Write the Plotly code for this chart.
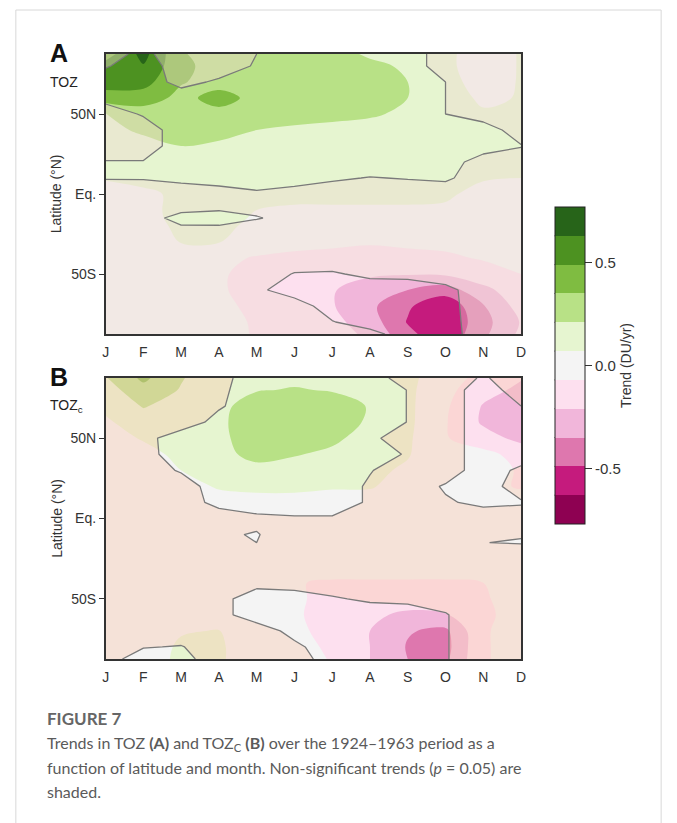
import plotly.graph_objects as go

# ---------------- data ----------------
MONTHS = ["J", "F", "M", "A", "M", "J", "J", "A", "S", "O", "N", "D"]
MONTH_POS = [1, 2, 3, 4, 5, 6, 7, 8, 9, 10, 11, 12]
LATS = [87.5, 80, 70, 60, 50, 40, 30, 20, 10, 0, -10, -15, -20, -30, -40, -50, -60, -70, -80, -87.5]
LAT_TICKS = [50, 0, -50]
LAT_LABELS = ["50N", "Eq.", "50S"]
CB_TICKS = [0.5, 0.0, -0.5]
CB_LABELS = ["0.5", "0.0", "-0.5"]
LEVEL_START, LEVEL_END, LEVEL_STEP = -0.63, 0.63, 0.14

# Panel A: TOZ trend (DU/yr), rows follow LATS, columns follow MONTHS
TOZ_TREND = [
    [0.42, 0.68, 0.36, 0.30, 0.28, 0.28, 0.26, 0.19, 0.15, 0.10, 0.00, 0.08],
    [0.55, 0.62, 0.38, 0.30, 0.30, 0.30, 0.28, 0.24, 0.19, 0.10, 0.00, 0.08],
    [0.56, 0.54, 0.36, 0.30, 0.30, 0.30, 0.28, 0.26, 0.21, 0.12, 0.01, 0.08],
    [0.42, 0.42, 0.31, 0.40, 0.31, 0.30, 0.28, 0.26, 0.21, 0.15, 0.04, 0.08],
    [0.20, 0.28, 0.30, 0.31, 0.29, 0.28, 0.26, 0.23, 0.18, 0.14, 0.09, 0.09],
    [0.16, 0.24, 0.27, 0.25, 0.21, 0.18, 0.16, 0.15, 0.14, 0.13, 0.11, 0.10],
    [0.12, 0.15, 0.21, 0.19, 0.17, 0.15, 0.15, 0.14, 0.13, 0.12, 0.11, 0.09],
    [0.10, 0.12, 0.14, 0.14, 0.13, 0.13, 0.13, 0.13, 0.12, 0.11, 0.09, 0.08],
    [0.08, 0.10, 0.11, 0.11, 0.11, 0.11, 0.11, 0.11, 0.11, 0.10, 0.08, 0.07],
    [0.02, 0.05, 0.09, 0.09, 0.09, 0.09, 0.09, 0.09, 0.09, 0.09, 0.03, 0.02],
    [-0.01, 0.04, 0.10, 0.10, 0.07, 0.06, 0.06, 0.06, 0.06, 0.05, 0.02, 0.01],
    [-0.01, 0.035, 0.10, 0.10, 0.06, 0.045, 0.04, 0.04, 0.04, 0.035, 0.01, 0.005],
    [0.00, 0.03, 0.09, 0.09, 0.05, 0.03, 0.02, 0.02, 0.02, 0.02, 0.00, 0.00],
    [0.00, 0.00, 0.075, 0.075, 0.00, -0.03, -0.05, -0.06, -0.05, -0.04, -0.02, -0.02],
    [0.00, -0.01, -0.02, -0.04, -0.08, -0.10, -0.10, -0.11, -0.10, -0.09, -0.06, -0.04],
    [-0.02, -0.02, -0.03, -0.055, -0.11, -0.13, -0.15, -0.19, -0.20, -0.19, -0.12, -0.07],
    [-0.02, -0.02, -0.03, -0.06, -0.10, -0.13, -0.20, -0.28, -0.35, -0.42, -0.25, -0.12],
    [-0.02, -0.02, -0.03, -0.06, -0.08, -0.12, -0.20, -0.32, -0.47, -0.60, -0.36, -0.15],
    [-0.02, -0.02, -0.03, -0.055, -0.075, -0.10, -0.17, -0.28, -0.50, -0.62, -0.40, -0.20],
    [-0.02, -0.02, -0.03, -0.05, -0.075, -0.10, -0.15, -0.24, -0.45, -0.60, -0.38, -0.18],
]
# Panel A: significance (1 = significant at p = 0.05, 0 = not significant)
TOZ_SIG = [
    [0.2, 0.7, 0, 0, 0.5, 1, 1, 1, 1, 0, 0, 0],
    [0.42, 1, 0, 0, 0.6, 1, 1, 1, 1, 0, 0, 0],
    [1, 1, 0.2, 0.65, 1, 1, 1, 1, 1, 0.5, 0, 0],
    [0.8, 1, 1, 1, 1, 1, 1, 1, 1, 0.5, 0, 0],
    [0, 0.6, 1, 1, 1, 1, 1, 1, 1, 0.5, 0, 0],
    [0, 0, 1, 1, 1, 1, 1, 1, 1, 1, 1, 0],
    [0, 0, 1, 1, 1, 1, 1, 1, 1, 1, 1, 0.55],
    [0.55, 0.55, 1, 1, 1, 1, 1, 1, 1, 1, 0, 0],
    [0.55, 0.56, 0.74, 1, 1, 1, 0.63, 0.46, 0.55, 0.65, 0, 0],
    [0, 0, 0, 0, 0.35, 0.05, 0, 0, 0, 0, 0, 0],
    [0, 0, 0.3, 0.45, 0.2, 0, 0, 0, 0, 0, 0, 0],
    [0, 0, 0.9, 1, 0.6, 0, 0, 0, 0, 0, 0, 0],
    [0, 0, 0.45, 0.45, 0, 0, 0, 0, 0, 0, 0, 0],
    [0, 0, 0, 0, 0, 0, 0, 0, 0, 0, 0, 0],
    [0, 0, 0, 0, 0, 0, 0, 0, 0, 0, 0, 0],
    [0, 0, 0, 0, 0, 0.55, 0.6, 0.3, 0.25, 0, 0, 0],
    [0, 0, 0, 0, 0.3, 1, 1, 1, 1, 0.75, 0, 0],
    [0, 0, 0, 0, 0, 0, 1, 1, 1, 0.8, 0, 0],
    [0, 0, 0, 0, 0, 0, 0.45, 1, 1, 0.85, 0, 0],
    [0, 0, 0, 0, 0, 0, 0, 0.17, 1, 0.9, 0, 0],
]
# Panel B: TOZc trend (DU/yr)
TOZC_TREND = [
    [0.20, 0.38, 0.22, 0.12, 0.15, 0.18, 0.18, 0.15, 0.10, 0.00, -0.12, -0.20],
    [0.15, 0.30, 0.20, 0.12, 0.20, 0.22, 0.20, 0.17, 0.10, -0.03, -0.16, -0.24],
    [0.10, 0.22, 0.15, 0.16, 0.30, 0.30, 0.28, 0.20, 0.10, -0.05, -0.22, -0.26],
    [0.05, 0.14, 0.12, 0.18, 0.30, 0.32, 0.28, 0.19, 0.10, -0.06, -0.23, -0.30],
    [0.02, 0.08, 0.10, 0.17, 0.30, 0.30, 0.24, 0.15, 0.09, -0.06, -0.15, -0.25],
    [0.00, 0.03, 0.10, 0.16, 0.26, 0.22, 0.18, 0.12, 0.08, -0.04, -0.03, -0.12],
    [-0.01, 0.00, 0.07, 0.12, 0.16, 0.15, 0.14, 0.10, 0.05, -0.03, -0.03, -0.08],
    [-0.02, -0.02, 0.03, 0.08, 0.09, 0.09, 0.08, 0.08, 0.02, -0.02, -0.04, -0.08],
    [-0.03, -0.03, -0.02, 0.03, 0.04, 0.04, 0.03, 0.02, -0.01, -0.02, -0.02, -0.02],
    [-0.03, -0.03, -0.03, -0.03, -0.03, -0.03, -0.03, -0.03, -0.03, -0.03, -0.04, -0.03],
    [-0.03, -0.03, -0.03, -0.03, -0.03, -0.03, -0.03, -0.03, -0.03, -0.03, -0.03, -0.03],
    [-0.03, -0.03, -0.03, -0.03, -0.03, -0.03, -0.03, -0.03, -0.03, -0.03, -0.03, -0.03],
    [-0.03, -0.03, -0.03, -0.03, -0.03, -0.03, -0.03, -0.03, -0.03, -0.03, -0.03, -0.03],
    [-0.03, -0.03, -0.03, -0.03, -0.03, -0.03, -0.03, -0.03, -0.03, -0.03, -0.03, -0.03],
    [-0.03, -0.03, -0.03, -0.03, -0.05, -0.065, -0.08, -0.08, -0.08, -0.08, -0.07, -0.03],
    [-0.03, -0.03, -0.02, -0.02, -0.04, -0.06, -0.09, -0.12, -0.13, -0.13, -0.08, -0.03],
    [-0.03, -0.03, -0.02, -0.02, -0.04, -0.06, -0.10, -0.18, -0.24, -0.22, -0.09, -0.03],
    [-0.03, -0.02, 0.06, 0.075, -0.03, -0.05, -0.10, -0.21, -0.34, -0.38, -0.08, -0.03],
    [-0.03, 0.00, 0.09, 0.09, -0.02, -0.05, -0.08, -0.21, -0.36, -0.40, -0.08, -0.03],
    [-0.03, 0.00, 0.10, 0.09, -0.02, -0.04, -0.075, -0.21, -0.35, -0.38, -0.08, -0.03],
]
# Panel B: significance
TOZC_SIG = [
    [0, 0, 0, 0.2, 1, 1, 1, 1, 0, 0, 0.6, 0],
    [0, 0, 0, 0.3, 1, 1, 1, 1, 0.48, 0, 1, 0],
    [0, 0, 0, 0.4, 1, 1, 1, 1, 0.48, 0, 1, 0.5],
    [0, 0, 0, 0.8, 1, 1, 1, 1, 0.48, 0, 1, 1],
    [0, 0.2, 1, 1, 1, 1, 1, 0.7, 0, 0, 1, 1],
    [0, 0.15, 1, 1, 1, 1, 1, 1, 0.4, 0, 1, 1],
    [0, 0, 0.6, 1, 1, 1, 1, 0.55, 0, 0, 1, 0.3],
    [0, 0, 0, 1, 1, 1, 1, 0.375, 0, 0.6, 1, 0],
    [0, 0, 0, 0.8, 1, 1, 1, 0.375, 0, 0.4, 0.7, 0.6],
    [0, 0, 0, 0, 0.3, 0.4, 0.4, 0.1, 0, 0, 0, 0],
    [0, 0, 0, 0.4, 0.55, 0, 0, 0, 0, 0, 0, 0.4],
    [0, 0, 0, 0.3, 0.5, 0, 0, 0, 0, 0, 0.48, 0.6],
    [0, 0, 0, 0, 0, 0, 0, 0, 0, 0, 0, 0],
    [0, 0, 0, 0, 0, 0, 0, 0, 0, 0, 0, 0],
    [0, 0, 0, 0, 0.2, 0.05, 0, 0, 0, 0, 0, 0],
    [0, 0, 0, 0.2, 1, 1, 0.6, 0.35, 0.25, 0.2, 0, 0],
    [0, 0, 0, 0.2, 1, 1, 1, 1, 1, 0.55, 0, 0],
    [0, 0, 0, 0, 0, 0.8, 1, 1, 1, 0.55, 0, 0],
    [0, 0.45, 0.55, 0, 0, 0.3, 1, 1, 1, 0.55, 0, 0],
    [0.1, 1, 0.8, 0, 0, 0, 1, 1, 1, 0.55, 0, 0],
]

# ---------------- styling ----------------
W, H = 677, 823
PIYG = ["#8e0152", "#c51b7d", "#de77ae", "#f1b6da", "#fde0ef", "#f4f4f4",
        "#e6f5d0", "#b8e186", "#7fbc41", "#4d9221", "#276419"]
OVERLAYS = ["rgba(239,217,207,0.42)", "rgba(247,199,174,0.40)"]
FONT = "Liberation Sans, Arial, sans-serif"
CAP_FONT = "Lato, Open Sans, sans-serif"

PLOT_L, PLOT_R = 103, 524
PANEL_TB = [(54, 334), (378, 659)]
CB_TOP, CB_BOT, CB_X, CB_W = 207, 524, 558, 30

fig = go.Figure()
lat_asc = LATS[::-1]
axes = [("x", "y"), ("x2", "y2")]
for (trend, sig), (xa, ya), ov in zip([(TOZ_TREND, TOZ_SIG), (TOZC_TREND, TOZC_SIG)], axes, OVERLAYS):
    fig.add_trace(go.Contour(
        x=MONTH_POS, y=lat_asc, z=trend[::-1], xaxis=xa, yaxis=ya,
        contours=dict(start=LEVEL_START, end=LEVEL_END, size=LEVEL_STEP,
                      coloring="fill", showlines=False),
        colorscale=[[k / 10, PIYG[k]] for k in range(11)],
        showscale=False, line=dict(width=0, smoothing=1.0), hoverinfo="skip"))
    nonsig = [[1 - v for v in row] for row in sig[::-1]]
    fig.add_trace(go.Contour(
        x=MONTH_POS, y=lat_asc, z=nonsig, xaxis=xa, yaxis=ya,
        contours=dict(start=0.5, end=0.5, size=1, coloring="fill", showlines=True),
        colorscale=[[0, "rgba(255,255,255,0)"], [1, ov]],
        showscale=False, line=dict(color="#7a7a7a", width=1.3, smoothing=0),
        hoverinfo="skip"))

cb_min = LEVEL_START - LEVEL_STEP
cb_max = LEVEL_END + LEVEL_STEP
step_cs = []
for k, c in enumerate(PIYG):
    step_cs += [[k / 11, c], [(k + 1) / 11, c]]
fig.add_trace(go.Scatter(
    x=[None], y=[None], mode="markers", xaxis="x", yaxis="y", showlegend=False,
    hoverinfo="skip",
    marker=dict(color=[0], cmin=cb_min, cmax=cb_max, colorscale=step_cs, showscale=True,
                colorbar=dict(x=CB_X / W, xanchor="left", xpad=0,
                              y=1 - (CB_TOP + CB_BOT) / 2 / H, yanchor="middle", ypad=0,
                              len=CB_BOT - CB_TOP, lenmode="pixels", thickness=CB_W,
                              outlinewidth=1, outlinecolor="#222",
                              tickvals=CB_TICKS, ticktext=CB_LABELS, ticks="outside",
                              ticklen=7, tickcolor="#333",
                              tickfont=dict(size=15, color="#333", family=FONT),
                              title=dict(text="Trend (DU/yr)", side="right",
                                         font=dict(size=14, color="#333", family=FONT))))))

common_x = dict(range=[1, 12], tickvals=MONTH_POS, ticktext=MONTHS, showline=True, mirror=True,
                linecolor="#333", linewidth=1.5, ticks="", showgrid=False, zeroline=False,
                tickfont=dict(size=14, color="#333", family=FONT),
                domain=[PLOT_L / W, PLOT_R / W], ticklabelstandoff=4)
common_y = dict(range=[-87.5, 87.5], tickvals=LAT_TICKS, ticktext=LAT_LABELS, showline=True,
                mirror=True, linecolor="#333", linewidth=1.5, ticks="outside", ticklen=5,
                tickcolor="#333", showgrid=False, zeroline=False,
                tickfont=dict(size=14, color="#333", family=FONT))

shapes = [dict(type="rect", xref="paper", yref="paper", x0=12 / W, x1=666 / W,
               y0=-0.05, y1=1 - 10 / H, line=dict(color="#d8d8d8", width=1),
               fillcolor="rgba(0,0,0,0)", layer="below")]
n_levels = int(round((LEVEL_END - LEVEL_START) / LEVEL_STEP)) + 1
for i in range(n_levels):
    lev = LEVEL_START + i * LEVEL_STEP
    ypix = CB_TOP + (cb_max - lev) / (cb_max - cb_min) * (CB_BOT - CB_TOP)
    shapes.append(dict(type="line", xref="paper", yref="paper", x0=CB_X / W, x1=(CB_X + CB_W) / W,
                       y0=1 - ypix / H, y1=1 - ypix / H, line=dict(color="#222", width=1)))

def ann(text, x, y, size, **kw):
    d = dict(text=text, x=x / W, y=1 - y / H, xref="paper", yref="paper", showarrow=False,
             xanchor="left", yanchor="middle", font=dict(size=size, color="#111", family=FONT))
    d.update(kw)
    return d

annotations = [
    ann("<b>A</b>", 45, 53, 25),
    ann("TOZ", 45, 82, 14, font=dict(size=14, color="#222", family=FONT)),
    ann("<b>B</b>", 45, 377, 25),
    ann("TOZ<sub>c</sub>", 45, 406, 14, font=dict(size=14, color="#222", family=FONT)),
    ann("Latitude (°N)", 53, (PANEL_TB[0][0] + PANEL_TB[0][1]) / 2, 14, xanchor="center",
        textangle=-90, font=dict(size=14, color="#333", family=FONT)),
    ann("Latitude (°N)", 53, (PANEL_TB[1][0] + PANEL_TB[1][1]) / 2, 14, xanchor="center",
        textangle=-90, font=dict(size=14, color="#333", family=FONT)),
    ann("<b>FIGURE 7</b>", 42, 718, 17, font=dict(size=17, color="#666", family=CAP_FONT)),
    ann("Trends in TOZ <b>(A)</b> and TOZ<sub>C</sub> <b>(B)</b> over the 1924–1963 period as a",
        42, 743, 16, font=dict(size=16, color="#5a5a5a", family=CAP_FONT)),
    ann("function of latitude and month. Non-significant trends (<i>p</i> = 0.05) are",
        42, 767, 16, font=dict(size=16, color="#5a5a5a", family=CAP_FONT)),
    ann("shaded.", 42, 791, 16, font=dict(size=16, color="#5a5a5a", family=CAP_FONT)),
]

fig.update_layout(
    width=W, height=H, margin=dict(l=0, r=0, t=0, b=0),
    paper_bgcolor="white", plot_bgcolor="white", showlegend=False,
    font=dict(family=FONT),
    xaxis=dict(**common_x, anchor="y"),
    xaxis2=dict(**common_x, anchor="y2"),
    yaxis=dict(**common_y, anchor="x", domain=[1 - PANEL_TB[0][1] / H, 1 - PANEL_TB[0][0] / H]),
    yaxis2=dict(**common_y, anchor="x2", domain=[1 - PANEL_TB[1][1] / H, 1 - PANEL_TB[1][0] / H]),
    shapes=shapes, annotations=annotations,
)
fig.write_html("out.html")
